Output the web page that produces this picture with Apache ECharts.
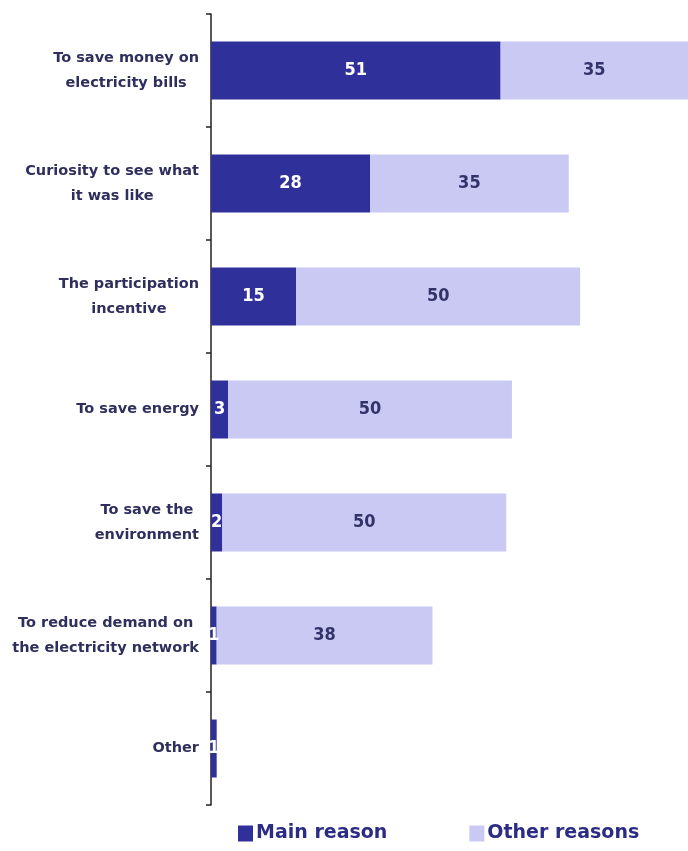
<!DOCTYPE html>
<html>
<head>
<meta charset="utf-8">
<script src="https://cdn.jsdelivr.net/npm/echarts@6/dist/echarts.min.js"></script>
<style>
  html, body { margin: 0; padding: 0; background: #fff; }
  #chart { width: 688px; height: 851px; }
</style>
</head>
<body>
<div id="chart"></div>
<script>
// reasons for taking part, top to bottom
var categories = [
  'To save money on\nelectricity bills',
  'Curiosity to see what\nit was like',
  'The participation\nincentive',
  'To save energy',
  'To save the\nenvironment',
  'To reduce demand on\nthe electricity network',
  'Other'
];
var mainReason = [51, 28, 15, 3, 2, 1, 1];
var otherReasons = [35, 35, 50, 50, 50, 38, 0];

var dark = '#30309a';
var light = '#c9c9f4';
var valueFont = "'DejaVu Sans Condensed', 'DejaVu Sans', sans-serif";

var chart = echarts.init(document.getElementById('chart'));

chart.setOption({
  animation: false,
  grid: { left: 211, right: 0, top: 14, bottom: 46 },
  xAxis: {
    type: 'value',
    min: 0,
    max: 84,
    show: false
  },
  yAxis: {
    type: 'category',
    data: categories,
    inverse: true,
    axisLine: { show: true, lineStyle: { color: '#222', width: 1.5 } },
    axisTick: { show: true, length: 5, lineStyle: { color: '#222', width: 1.5 } },
    axisLabel: {
      margin: 12,
      formatter: function (v) { return '{a|' + v.split('\n').join('}\n{a|') + '}'; },
      rich: {
        a: {
          align: 'center',
          fontFamily: 'DejaVu Sans',
          fontWeight: 'bold',
          fontSize: 14.5,
          lineHeight: 25,
          color: '#2f2f5e'
        }
      }
    }
  },
  legend: {
    bottom: 3,
    left: 233,
    itemGap: 82,
    itemWidth: 15,
    itemHeight: 16,
    icon: 'rect',
    textStyle: {
      fontFamily: 'DejaVu Sans',
      fontWeight: 'bold',
      fontSize: 19,
      color: '#2c2c85',
      padding: [0, 0, 0, -2]
    },
    data: ['Main reason', 'Other reasons']
  },
  series: [
    {
      name: 'Main reason',
      type: 'bar',
      stack: 'total',
      barWidth: 58,
      data: mainReason,
      itemStyle: { color: dark },
      label: {
        show: true,
        position: 'inside',
        color: '#fff',
        fontFamily: valueFont,
        fontWeight: 'bold',
        fontSize: 18,
        formatter: function (p) { return p.value > 0 ? p.value : ''; }
      }
    },
    {
      name: 'Other reasons',
      type: 'bar',
      stack: 'total',
      barWidth: 58,
      data: otherReasons,
      itemStyle: { color: light },
      label: {
        show: true,
        position: 'inside',
        color: '#33336a',
        fontFamily: valueFont,
        fontWeight: 'bold',
        fontSize: 18,
        formatter: function (p) { return p.value > 0 ? p.value : ''; }
      }
    }
  ]
});
</script>
</body>
</html>
